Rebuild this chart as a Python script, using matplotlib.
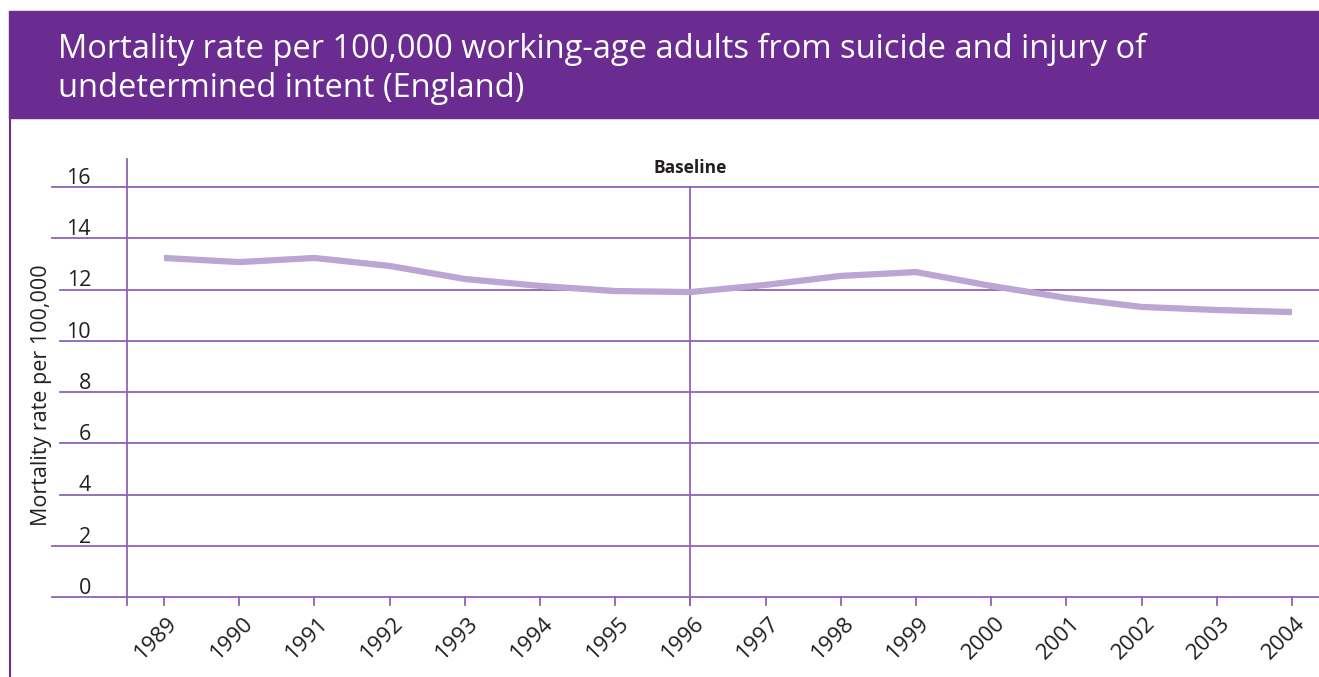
import matplotlib
matplotlib.use("Agg")
import matplotlib.pyplot as plt
from matplotlib.patches import Rectangle
from matplotlib.lines import Line2D

plt.rcParams['font.family'] = ['Open Sans', 'DejaVu Sans']

# data
years = [1989, 1990, 1991, 1992, 1993, 1994, 1995, 1996,
         1997, 1998, 1999, 2000, 2001, 2002, 2003, 2004]
rate = [13.23, 13.07, 13.23, 12.92, 12.41, 12.14, 11.94, 11.90,
        12.18, 12.53, 12.68, 12.14, 11.67, 11.32, 11.20, 11.12]
yticks = [0, 2, 4, 6, 8, 10, 12, 14, 16]
baseline_year = 1996

W, H = 1319, 677
purple = '#6a2c91'
grid_col = '#8f63b8'
line_col = '#bba5d3'
text_col = '#231f20'

fig = plt.figure(figsize=(W / 100, H / 100), dpi=100)

def fx(px):
    return px / W

def fy(py):
    return 1 - py / H

# title bar
fig.patches.append(Rectangle((fx(9), fy(118)), fx(W - 9), fy(11) - fy(118),
                             transform=fig.transFigure, color=purple, zorder=0))
fig.lines.append(Line2D([fx(10), fx(10)], [fy(118), fy(677)],
                        transform=fig.transFigure, color=purple, lw=1.5))
fig.text(fx(58), fy(58), 'Mortality rate per 100,000 working-age adults from suicide and injury of',
         color='white', fontsize=23.5, va='baseline', ha='left')
fig.text(fx(58), fy(97), 'undetermined intent (England)',
         color='white', fontsize=23.5, va='baseline', ha='left')

# axes area: x=127..1319 px, y(0)=597 px, y(16)=187 px
ax = fig.add_axes([fx(127), fy(597), fx(W) - fx(127), fy(187) - fy(597)])
ax.set_xlim(1989 - 37 / 75.2, 2004 + 27 / 75.2)
ax.set_ylim(0, 16)
ax.axis('off')

for v in yticks:
    start = 52 if v in (0, 2, 14, 16) else 60
    ax.axhline(v, xmin=(start - 127) / (W - 127), xmax=1, color=grid_col, lw=1.3,
               clip_on=False, zorder=1)
    ax.text((91 - 127) / (W - 127), v + 0.12, str(v), transform=ax.get_yaxis_transform(),
            ha='right', va='baseline', fontsize=15.5, color=text_col)

# vertical axis line and ticks
ax.plot([1989 - 37 / 75.2] * 2, [-0.31, 17.1], color=grid_col, lw=1.3, clip_on=False, zorder=1)
for yr in years:
    ax.plot([yr, yr], [-0.31, 0], color=grid_col, lw=1.3, clip_on=False, zorder=1)
    ax.text(yr + 0.04, -0.62, str(yr), rotation=45, rotation_mode='anchor',
            ha='right', va='top', fontsize=16, color=text_col)

# baseline marker
ax.plot([baseline_year, baseline_year], [-0.31, 16], color=grid_col, lw=1.3, clip_on=False, zorder=1)
ax.text(baseline_year, 16.4, 'Baseline', ha='center', va='bottom', fontsize=12.5,
        fontweight='bold', color=text_col)

ax.plot(years, rate, color=line_col, lw=4.5, solid_capstyle='butt', zorder=3)

fig.text(fx(42), fy(395), 'Mortality rate per 100,000', rotation=90,
         ha='center', va='center', fontsize=15.5, color=text_col)

fig.savefig('out.png', dpi=100)
